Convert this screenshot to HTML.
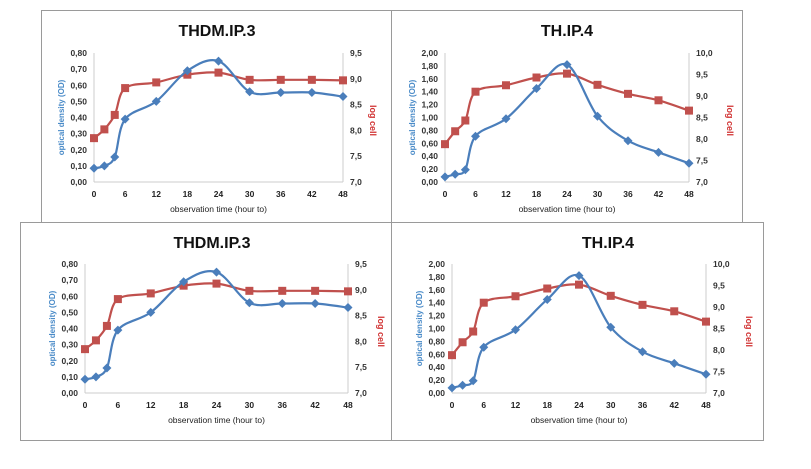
<!DOCTYPE html>
<html><head><meta charset="utf-8"><style>
body{margin:0;background:#fff;width:811px;height:464px;overflow:hidden;font-family:"Liberation Sans",sans-serif}
svg text{font-family:"Liberation Sans",sans-serif}
</style></head><body>
<svg id="s" width="811" height="464"></svg>
<script>
const hours=[0,2,4,6,12,18,24,30,36,42,48];
const xTicks=[0,6,12,18,24,30,36,42,48];
const odTHDM=[0.085,0.10,0.155,0.39,0.50,0.69,0.75,0.56,0.555,0.555,0.53];
const logTHDM=[7.85,8.02,8.3,8.82,8.93,9.08,9.12,8.98,8.98,8.98,8.97];
const odTH=[0.08,0.12,0.19,0.71,0.98,1.45,1.82,1.02,0.64,0.46,0.29];
const logTH=[7.88,8.18,8.43,9.1,9.25,9.43,9.52,9.26,9.05,8.9,8.66];
const leftTicksTHDM=["0,00","0,10","0,20","0,30","0,40","0,50","0,60","0,70","0,80"];
const rightTicksTHDM=["7,0","7,5","8,0","8,5","9,0","9,5"];
const leftTicksTH=["0,00","0,20","0,40","0,60","0,80","1,00","1,20","1,40","1,60","1,80","2,00"];
const rightTicksTH=["7,0","7,5","8,0","8,5","9,0","9,5","10,0"];
const NS="http://www.w3.org/2000/svg";
const svg=document.getElementById('s');
function mk(t,a,p){const e=document.createElementNS(NS,t);for(const k in a)e.setAttribute(k,a[k]);(p||svg).appendChild(e);return e;}
function smooth(pts){let d="M"+pts[0][0]+","+pts[0][1];for(let i=0;i<pts.length-1;i++){const p0=pts[i-1]||pts[i],p1=pts[i],p2=pts[i+1],p3=pts[i+2]||p2;const t=6;d+=" C"+(p1[0]+(p2[0]-p0[0])/t)+","+(p1[1]+(p2[1]-p0[1])/t)+" "+(p2[0]-(p3[0]-p1[0])/t)+","+(p2[1]-(p3[1]-p1[1])/t)+" "+p2[0]+","+p2[1];}return d;}
const panels=[
 {name:"thdm-top",box:[41,10,391,222],x0:94,x1:343,yt:53,yb:182,title:"THDM.IP.3",tx:217,ty:30,od:odTHDM,lg:logTHDM,lt:leftTicksTHDM,rt:rightTicksTHDM,odMax:0.8,lmin:7,lmax:9.5,lcx:370},
 {name:"th-top",box:[391,10,742,222],x0:445,x1:689,yt:53,yb:182,title:"TH.IP.4",tx:567,ty:30,od:odTH,lg:logTH,lt:leftTicksTH,rt:rightTicksTH,odMax:2,lmin:7,lmax:10,lcx:727},
 {name:"thdm-bottom",box:[20,222,391,440],x0:85,x1:348,yt:264,yb:393,title:"THDM.IP.3",tx:212,ty:242,od:odTHDM,lg:logTHDM,lt:leftTicksTHDM,rt:rightTicksTHDM,odMax:0.8,lmin:7,lmax:9.5,lcx:378},
 {name:"th-bottom",box:[391,222,763,440],x0:452,x1:706,yt:264,yb:393,title:"TH.IP.4",tx:608,ty:242,od:odTH,lg:logTH,lt:leftTicksTH,rt:rightTicksTH,odMax:2,lmin:7,lmax:10,lcx:746}
];
panels.forEach(P=>{
 const g=mk('g',{});
 
 
 const b=P.box;
 mk('rect',{x:b[0]+.5,y:b[1]+.5,width:b[2]-b[0],height:b[3]-b[1],fill:'#fff',stroke:'#9a9a9a','stroke-width':1},g);
 const xs=h=>P.x0+(P.x1-P.x0)*h/48;
 const yl=v=>P.yb-(P.yb-P.yt)*v/P.odMax;
 const yr=v=>P.yb-(P.yb-P.yt)*(v-P.lmin)/(P.lmax-P.lmin);
 const t=mk('text',{x:P.tx,y:P.ty+6,'text-anchor':'middle','font-size':16,'font-weight':'bold',fill:'#111'},g);t.textContent=P.title;
 
 mk('line',{x1:P.x0,y1:P.yt,x2:P.x0,y2:P.yb,stroke:'#ccc'},g);
 mk('line',{x1:P.x1,y1:P.yt,x2:P.x1,y2:P.yb,stroke:'#ccc'},g);
 mk('line',{x1:P.x0,y1:P.yb,x2:P.x1,y2:P.yb,stroke:'#ccc'},g);
 P.lt.forEach((s,i)=>{const v=P.odMax*i/(P.lt.length-1);const e=mk('text',{x:P.x0-7,y:yl(v)+3,'text-anchor':'end','font-size':8.5,'font-weight':'bold',fill:'#333'},g);e.textContent=s;
  });
 P.rt.forEach((s,i)=>{const v=P.lmin+(P.lmax-P.lmin)*i/(P.rt.length-1);const e=mk('text',{x:P.x1+7,y:yr(v)+3,'font-size':8.5,'font-weight':'bold',fill:'#333'},g);e.textContent=s;
  });
 xTicks.forEach(h=>{const e=mk('text',{x:xs(h),y:P.yb+15,'text-anchor':'middle','font-size':8.5,'font-weight':'bold',fill:'#222'},g);e.textContent=h;
  });
 const xt=mk('text',{x:(P.x0+P.x1)/2,y:P.yb+30,'text-anchor':'middle','font-size':8.5,fill:'#222'},g);xt.textContent="observation time (hour to)";
 
 const cy=(P.yt+P.yb)/2;
 const yt=mk('text',{x:P.x0-30,y:cy,'text-anchor':'middle','font-size':8,'font-weight':'bold',fill:'#4a8bc8',transform:`rotate(-90 ${P.x0-30} ${cy})`},g);yt.textContent="optical density (OD)";
 
 const rt=mk('text',{x:P.lcx,y:cy+3,'text-anchor':'middle','font-size':9,'font-weight':'bold',fill:'#d03030',transform:`rotate(90 ${P.lcx} ${cy+3})`},g);rt.textContent="log cell";
 
 const lp=hours.map((h,i)=>[xs(h),yr(P.lg[i])]);
 const lpath=mk('path',{d:smooth(lp),fill:'none',stroke:'#c0504d','stroke-width':2.2},g);
 
 lp.forEach(p=>{const r=mk('rect',{x:p[0]-4,y:p[1]-4,width:8,height:8,fill:'#c0504d'},g);
  });
 const op=hours.map((h,i)=>[xs(h),yl(P.od[i])]);
 const opath=mk('path',{d:smooth(op),fill:'none',stroke:'#4a7ebb','stroke-width':2.2},g);
 
 op.forEach(p=>{const r=mk('path',{d:`M${p[0]},${p[1]-4.5}L${p[0]+4.5},${p[1]}L${p[0]},${p[1]+4.5}L${p[0]-4.5},${p[1]}Z`,fill:'#4a7ebb'},g);
  });
});
</script>
</body></html>
